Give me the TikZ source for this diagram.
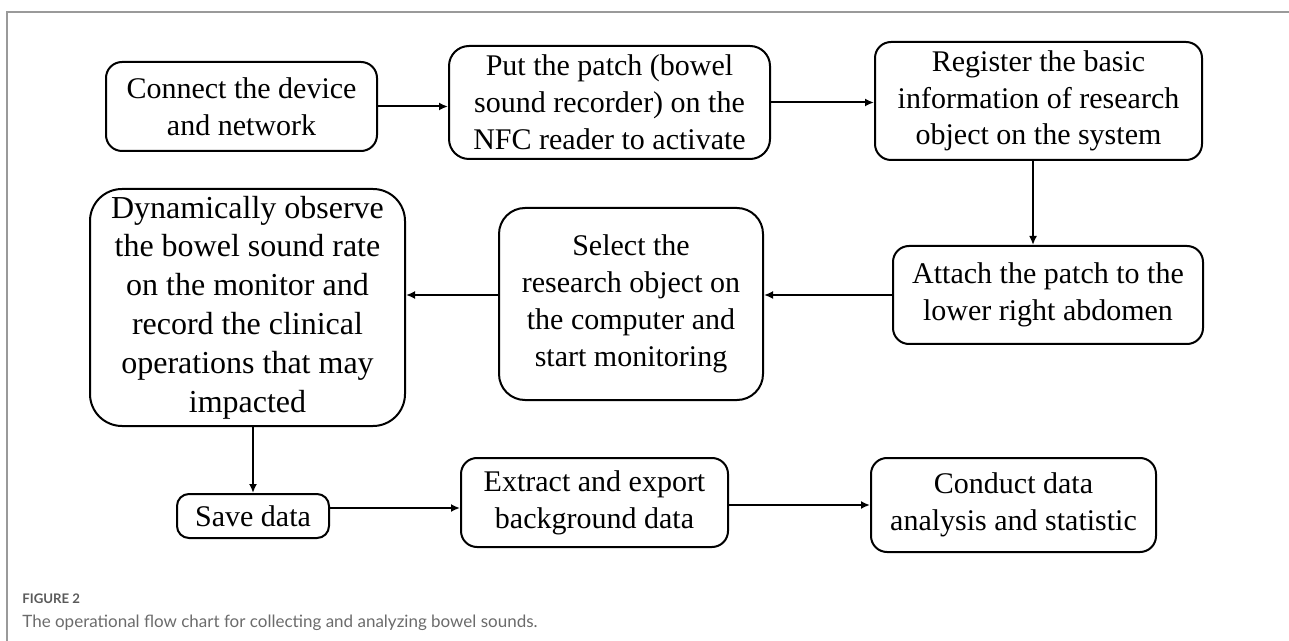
\documentclass[tikz,border=0pt]{standalone}
\usepackage{fontspec}
\setmainfont{Liberation Serif}
\newfontfamily\capfont{Lato}
\usepackage{tikz}
\usetikzlibrary{arrows.meta,calc}
\definecolor{framegray}{HTML}{9A9A9A}
\definecolor{capgray}{HTML}{6B6B6B}
\definecolor{figgray}{HTML}{5A5A5A}

\begin{document}
\begin{tikzpicture}[x=0.5pt, y=-0.5pt, every node/.style={font=\fontsize{15pt}{18.4pt}\selectfont}, stepbox/.style={draw, line width=1pt, rounded corners=8pt, align=center, inner sep=0pt}, arr/.style={-{Latex[length=4.5pt,width=4pt]}, line width=1pt}]
\useasboundingbox (0,0) rectangle (1289,641);
\draw[framegray, line width=0.75pt] (7,641) -- (7,12) -- (1289,12);
\node[stepbox, minimum width=135.5pt, minimum height=44.5pt] (connect) at (241.5,106.5) {Connect the device\\and network};
\node[stepbox, minimum width=160.5pt, minimum height=56.5pt, rounded corners=10pt] (patch) at (609.5,102.5) {Put the patch (bowel\\sound recorder) on the\\NFC reader to activate};
\node[stepbox, minimum width=163.5pt, minimum height=59pt] (register) at (1038.5,101) {Register the basic\\information of research\\object on the system};
\node[stepbox, minimum width=155pt, minimum height=49pt] (attach) at (1048,295) {Attach the patch to the\\lower right abdomen};
\node[stepbox, minimum width=132pt, minimum height=96pt, rounded corners=13pt] (select) at (631,304) {Select the\\research object on\\the computer and\\start monitoring};
\node[stepbox, minimum width=157.5pt, minimum height=118.5pt, rounded corners=16pt, font=\fontsize{16pt}{19.4pt}\selectfont] (observe) at (247.5,307.5) {Dynamically observe\\the bowel sound rate\\on the monitor and\\record the clinical\\operations that may\\impacted};
\node[stepbox, minimum width=76pt, minimum height=22pt, rounded corners=6pt] (save) at (253,516) {Save data};
\node[stepbox, minimum width=133.5pt, minimum height=44.5pt] (extract) at (594.5,502.5) {Extract and export\\background data};
\node[stepbox, minimum width=142.5pt, minimum height=47pt] (analyse) at (1013.5,505) {Conduct data\\analysis and statistic};
\node[anchor=base west, inner sep=0pt, text=figgray, font=\capfont\bfseries\fontsize{6.6pt}{8pt}\selectfont] (fignum) at (22,603) {FIGURE 2};
\node[anchor=base west, inner sep=0pt, text=capgray, font=\capfont\fontsize{8.5pt}{10pt}\selectfont] (caption) at (22,627) {The operational flow chart for collecting and analyzing bowel sounds.};
\draw[arr] (connect.east) -- (connect.east -| patch.west);
\draw[arr] (patch.east) -- (patch.east -| register.west);
\draw[arr] ([xshift=-2.75pt]register.south) -- ([xshift=-2.75pt]register.south |- attach.north);
\draw[arr] (attach.west) -- (attach.west -| select.east);
\draw[arr] (select.west |- attach.west) -- (observe.east |- attach.west);
\draw[arr] (save.north |- observe.south) -- (save.north);
\draw[arr] ([yshift=4pt]save.east) -- ([yshift=4pt]save.east -| extract.west);
\draw[arr] (extract.east |- analyse.west) -- (analyse.west);
\end{tikzpicture}
\end{document}
